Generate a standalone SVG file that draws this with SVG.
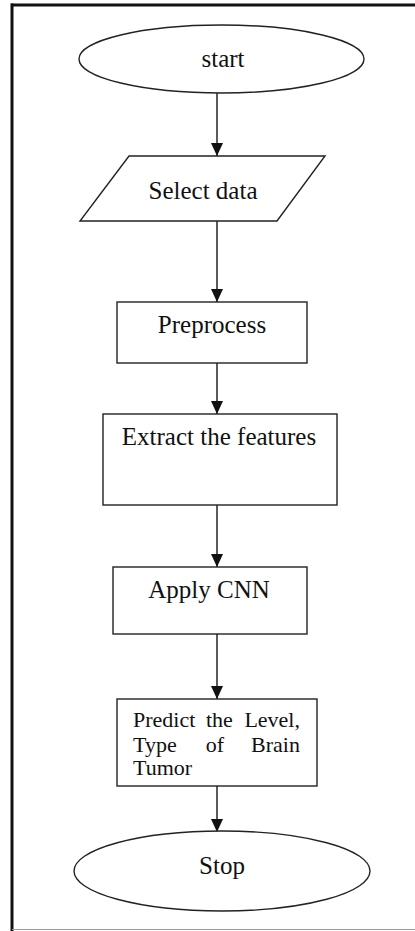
<svg xmlns="http://www.w3.org/2000/svg" width="415" height="931" viewBox="0 0 415 931">
  <defs>
    <marker id="arr" markerWidth="13" markerHeight="12" refX="13" refY="6" orient="auto" markerUnits="userSpaceOnUse">
      <path d="M0,0 L13,6 L0,12 Z" fill="#111"/>
    </marker>
    <style>
      .shape { fill: #fff; stroke: #222; stroke-width: 1.4; }
      .lbl { font-family: "Liberation Serif", "Times New Roman", serif; font-size: 25px; fill: #111; text-anchor: middle; }
      .sm { font-family: "Liberation Serif", "Times New Roman", serif; font-size: 22px; fill: #111; }
      .conn { stroke: #333; stroke-width: 1.6; fill: none; marker-end: url(#arr); }
    </style>
  </defs>
  <rect width="415" height="931" fill="#fff"/>
  <g id="frame">
    <line x1="11" y1="5" x2="415" y2="5" stroke="#111" stroke-width="3"/>
    <line x1="12" y1="3.5" x2="12" y2="931" stroke="#111" stroke-width="3"/>
    <line x1="12" y1="929.5" x2="415" y2="929.5" stroke="#999" stroke-width="1"/>
  </g>
  <g id="connectors">
    <line class="conn" x1="217" y1="93" x2="217" y2="156"/>
    <line class="conn" x1="217" y1="221" x2="217" y2="302"/>
    <line class="conn" x1="217" y1="363" x2="217" y2="414"/>
    <line class="conn" x1="217" y1="505" x2="217" y2="567"/>
    <line class="conn" x1="217" y1="634" x2="217" y2="699"/>
    <line class="conn" x1="217" y1="786" x2="217" y2="832"/>
  </g>
  <g id="start">
    <ellipse class="shape" cx="221.5" cy="59" rx="142.5" ry="34"/>
    <text class="lbl" x="223" y="67">start</text>
  </g>
  <g id="select">
    <polygon class="shape" points="129,156 325,156 277,221 80,221"/>
    <text class="lbl" x="203" y="199">Select data</text>
  </g>
  <g id="preprocess">
    <rect class="shape" x="117" y="302" width="190" height="61"/>
    <text class="lbl" x="212" y="333">Preprocess</text>
  </g>
  <g id="extract">
    <rect class="shape" x="103" y="414" width="234" height="91"/>
    <text class="lbl" x="219" y="445">Extract the features</text>
  </g>
  <g id="cnn">
    <rect class="shape" x="113" y="567" width="194" height="67"/>
    <text class="lbl" x="209" y="598">Apply CNN</text>
  </g>
  <g id="predict">
    <rect class="shape" x="117" y="699" width="200" height="87"/>
    <text class="sm" y="727"><tspan x="133">Predict</tspan><tspan x="206">the</tspan><tspan x="300" text-anchor="end">Level,</tspan></text>
    <text class="sm" y="752"><tspan x="133">Type</tspan><tspan x="215" text-anchor="middle">of</tspan><tspan x="300" text-anchor="end">Brain</tspan></text>
    <text class="sm" x="133" y="775">Tumor</text>
  </g>
  <g id="stop">
    <ellipse class="shape" cx="222" cy="871" rx="148" ry="40"/>
    <text class="lbl" x="222" y="874">Stop</text>
  </g>
</svg>
